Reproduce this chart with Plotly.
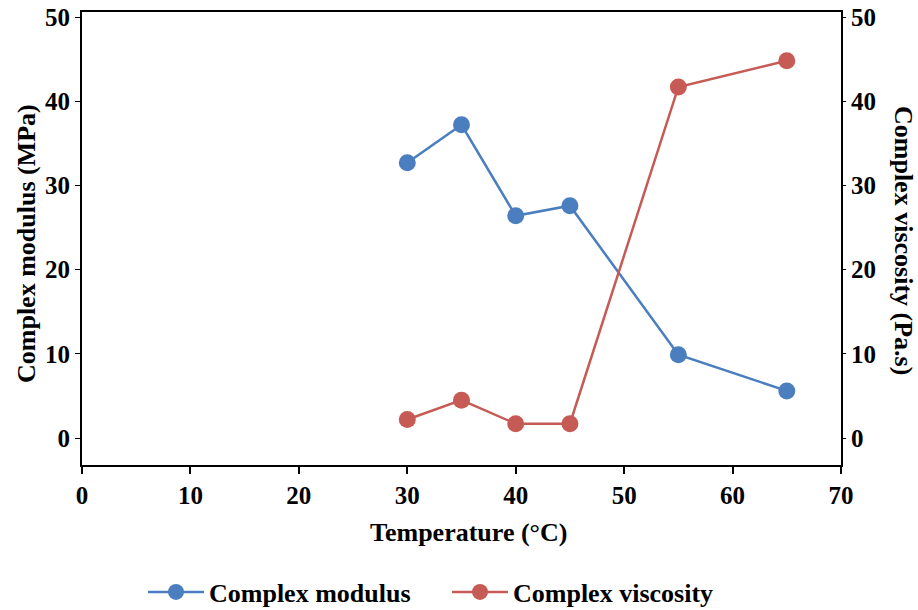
import plotly.graph_objects as go

temperature = [30, 35, 40, 45, 55, 65]
complex_modulus = [32.7, 37.2, 26.4, 27.6, 9.9, 5.6]
complex_viscosity = [2.2, 4.5, 1.7, 1.7, 41.7, 44.8]
x_ticks = [0, 10, 20, 30, 40, 50, 60, 70]
y_ticks = [0, 10, 20, 30, 40, 50]

FONT = "Liberation Serif"
BLUE = "#4A7EBF"
RED = "#C65A55"

W, H = 918, 610
L, R, T, B = 82, 77, 12, 145
PW, PH = W - L - R, H - T - B


def px(xf):
    return (xf - L) / PW


def py(yf):
    return (H - B - yf) / PH


fig = go.Figure()
fig.add_trace(go.Scatter(x=temperature, y=complex_modulus, name="Complex modulus",
                         mode="lines+markers", line=dict(color=BLUE, width=2.5),
                         marker=dict(size=17, color=BLUE), yaxis="y"))
fig.add_trace(go.Scatter(x=temperature, y=complex_viscosity, name="Complex viscosity",
                         mode="lines+markers", line=dict(color=RED, width=2.5),
                         marker=dict(size=17, color=RED), yaxis="y2"))

tick_font = dict(family=FONT, size=25, color="black", weight="bold")
title_font = dict(family=FONT, size=26, color="black", weight="bold")

fig.update_layout(
    width=W, height=H,
    margin=dict(l=L, r=R, t=T, b=B, autoexpand=False),
    paper_bgcolor="white", plot_bgcolor="white",
    font=dict(family=FONT, size=20, color="black"),
    showlegend=True,
    legend=dict(orientation="h", x=px(143), xanchor="left", y=py(592), yanchor="middle",
                font=title_font, itemwidth=56, entrywidth=233, entrywidthmode="pixels",
                tracegroupgap=0),
    xaxis=dict(range=[0, 70], tickvals=x_ticks, showline=True, linecolor="black",
               linewidth=2, mirror=True, ticks="outside", ticklen=7, tickwidth=2,
               tickcolor="black", showgrid=False, zeroline=False, tickfont=tick_font,
               automargin=False, ticklabeloverflow="allow"),
    yaxis=dict(range=[-3.2, 50.6], tickvals=y_ticks, showline=True, linecolor="black",
               linewidth=2, ticks="outside", ticklen=5, tickwidth=1, tickcolor="black",
               showgrid=False, zeroline=False, tickfont=tick_font, automargin=False,
               ticklabeloverflow="allow"),
    yaxis2=dict(range=[-3.2, 50.6], tickvals=y_ticks, overlaying="y", side="right",
                showline=True, linecolor="black", linewidth=2, ticks="outside",
                ticklen=3, tickwidth=1, tickcolor="black", showgrid=False,
                zeroline=False, tickfont=tick_font, automargin=False,
                ticklabeloverflow="allow"),
    annotations=[
        dict(text="Temperature (°C)", xref="paper", yref="paper", x=px(468), y=py(532),
             xanchor="center", yanchor="middle", showarrow=False, font=title_font),
        dict(text="Complex modulus (MPa)", xref="paper", yref="paper",
             x=px(27), y=py(244), xanchor="center", yanchor="middle",
             textangle=-90, showarrow=False, font=title_font),
        dict(text="Complex viscosity (Pa.s)", xref="paper", yref="paper",
             x=px(904), y=py(240), xanchor="center", yanchor="middle",
             textangle=90, showarrow=False, font=title_font),
    ],
)

# remove the browser's default 8px body margin so the figure fills the window
fig.write_html("out.html", config={"displayModeBar": False},
               post_script="document.body.style.margin='0';document.body.style.overflow='hidden';")
